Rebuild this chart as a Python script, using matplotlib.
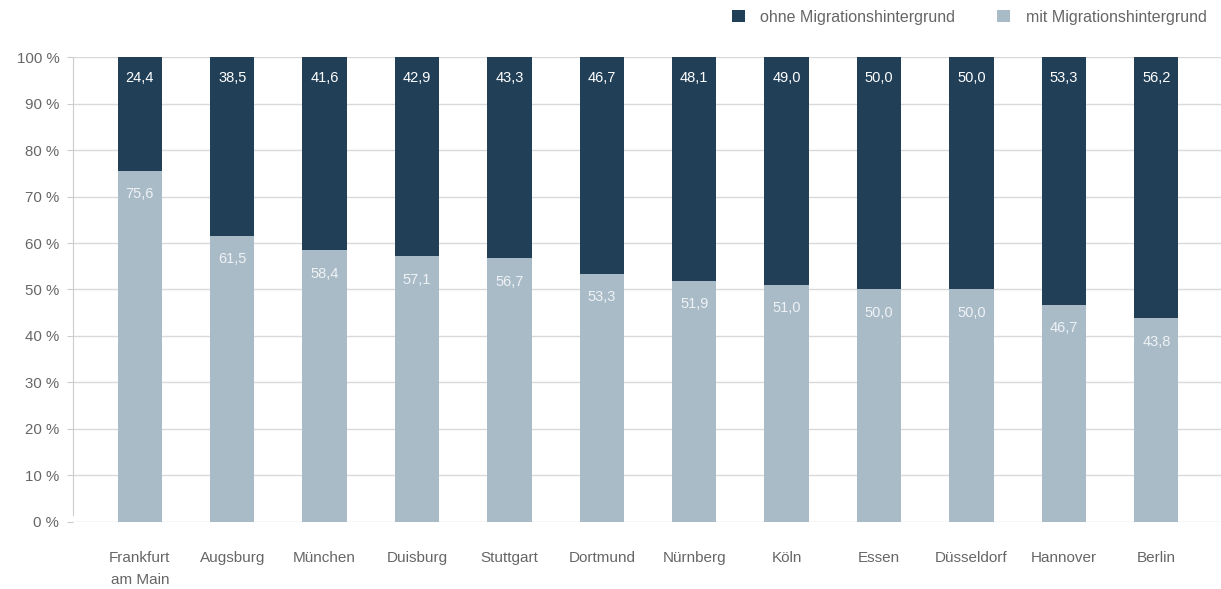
import numpy as np
import matplotlib.pyplot as plt

plt.rcParams['font.family'] = ['Liberation Sans', 'DejaVu Sans']

cities = ['Frankfurt\nam Main', 'Augsburg', 'München', 'Duisburg', 'Stuttgart', 'Dortmund',
          'Nürnberg', 'Köln', 'Essen', 'Düsseldorf', 'Hannover', 'Berlin']
mit = [75.6, 61.5, 58.4, 57.1, 56.7, 53.3, 51.9, 51.0, 50.0, 50.0, 46.7, 43.8]
ohne = [24.4, 38.5, 41.6, 42.9, 43.3, 46.7, 48.1, 49.0, 50.0, 50.0, 53.3, 56.2]

dark = '#213f57'
light = '#aabbc8'
grey = '#666666'

fig = plt.figure(figsize=(12.21, 5.89), dpi=100)
ax = fig.add_axes([0.06, 0.114, 0.94, 0.789])

x = np.arange(len(cities))
w = 0.48
ax.bar(x, mit, w, color=light, label='mit Migrationshintergrund', zorder=3)
ax.bar(x, ohne, w, bottom=mit, color=dark, label='ohne Migrationshintergrund', zorder=3)

def fmt(v):
    return ('%.1f' % v).replace('.', ',')

for i in range(len(cities)):
    ax.text(x[i], 100 - 4.5, fmt(ohne[i]), ha='center', va='center', color='white', fontsize=10.5, zorder=4)
    ax.text(x[i], mit[i] - 5.0, fmt(mit[i]), ha='center', va='center', color='#eef2f5', fontsize=10.5, zorder=4)

ax.set_xlim(-0.72, 11.7)
ax.set_ylim(0, 100)
ax.set_yticks(np.arange(0, 101, 10))
ax.set_yticklabels(['%d %%' % t for t in range(0, 101, 10)])
ax.set_xticks(x)
ax.set_xticklabels(cities, linespacing=1.75)
ax.grid(axis='y', color='#d9d9d9', lw=1, zorder=0)
for s in ['top', 'right', 'bottom']:
    ax.spines[s].set_visible(False)
ax.spines['left'].set_color('#cccccc')
ax.spines['left'].set_bounds(1.5, 100)
ax.tick_params(axis='y', length=4, color='#cccccc', labelcolor=grey, labelsize=10.8, pad=6)
ax.tick_params(axis='x', length=0, labelcolor=grey, labelsize=11, pad=21)

h, l = ax.get_legend_handles_labels()
fig.legend(h[::-1], l[::-1], loc='upper right', bbox_to_anchor=(1.0, 1.008), ncol=2, frameon=False,
           fontsize=11.5, labelcolor=grey, handlelength=0.8, handleheight=0.8, columnspacing=2.6,
           handletextpad=1.0)

plt.savefig('out.png', dpi=100)
